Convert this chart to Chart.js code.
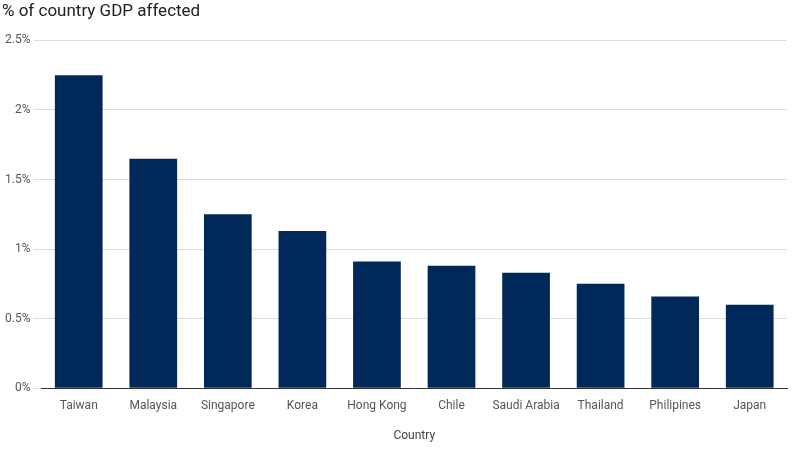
<!DOCTYPE html>
<html>
<head>
<meta charset="utf-8">
<script src="https://cdn.jsdelivr.net/npm/chart.js@4"></script>
<style>
  html, body { margin: 0; padding: 0; background: #fff; }
  #wrap { width: 797px; height: 451px; }
</style>
</head>
<body>
<div id="wrap"><canvas id="gdpChart"></canvas></div>
<script>
  const countries = ["Taiwan", "Malaysia", "Singapore", "Korea", "Hong Kong", "Chile", "Saudi Arabia", "Thailand", "Philipines", "Japan"];
  const gdpShare = [2.25, 1.65, 1.25, 1.13, 0.91, 0.88, 0.83, 0.75, 0.66, 0.6];
  const yTicks = [0, 0.5, 1, 1.5, 2, 2.5];

  Chart.defaults.font.family = "Roboto, 'Noto Sans', sans-serif";
  Chart.defaults.color = "#666";

  new Chart(document.getElementById("gdpChart"), {
    type: "bar",
    data: {
      labels: countries,
      datasets: [{
        label: "% of country GDP affected",
        data: gdpShare,
        backgroundColor: "#002858",
        categoryPercentage: 0.64,
        barPercentage: 1
      }]
    },
    options: {
      responsive: true,
      maintainAspectRatio: false,
      animation: false,
      layout: { padding: { left: 2, right: 10, top: 0, bottom: 4 } },
      plugins: {
        legend: { display: false },
        tooltip: { enabled: false },
        title: {
          display: true,
          text: "% of country GDP affected",
          align: "start",
          color: "#222",
          font: { size: 17, weight: "normal" },
          padding: { top: 2, bottom: 18 }
        }
      },
      scales: {
        x: {
          grid: { display: false },
          border: { color: "#333" },
          ticks: { color: "#555", font: { size: 12 }, maxRotation: 0 },
          title: { display: true, text: "Country", color: "#444", font: { size: 12 }, padding: { top: 12 } }
        },
        y: {
          min: 0,
          max: 2.5,
          afterBuildTicks: axis => { axis.ticks = yTicks.map(v => ({ value: v })); },
          grid: { color: "#ddd" },
          border: { display: false },
          ticks: { color: "#555", font: { size: 12 }, callback: v => v + "%" }
        }
      }
    }
  });
</script>
</body>
</html>
